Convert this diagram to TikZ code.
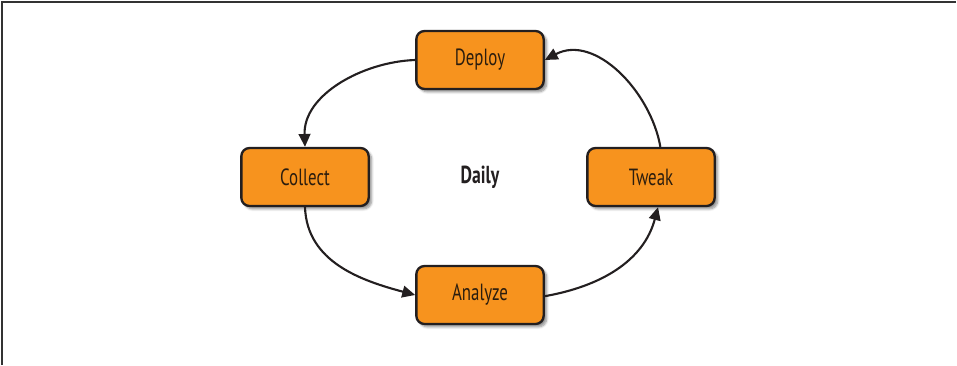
\documentclass[tikz,border=0pt]{standalone}
\usepackage{fontspec}
\setmainfont{PT Sans}[FakeStretch=0.72]
\usetikzlibrary{arrows.meta,shadows.blur}
\definecolor{boxfill}{HTML}{F7931E}
\definecolor{ink}{HTML}{231F20}
\definecolor{textink}{HTML}{2B1D0E}
\tikzset{
  stagebox/.style={draw=ink, line width=2pt, fill=boxfill, rounded corners=7pt,
    minimum width=3.82cm, minimum height=1.74cm, inner sep=0pt,
    text=textink, font=\fontsize{20}{22}\selectfont,
    blur shadow={shadow xshift=2.5pt, shadow yshift=-2.5pt, shadow blur steps=6, shadow opacity=45}},
  flow/.style={draw=ink, line width=1.8pt, -{Triangle[length=11pt,width=10pt]}},
}
\begin{document}
\begin{tikzpicture}[x=0.03cm, y=-0.03cm]
  \useasboundingbox (0,0) rectangle (957,365);
  % frame lines along the top and left edges
  \draw[line width=1.6pt, color=black!80] (2,365) -- (2,2) -- (956,2);

  \node[stagebox] (deploy)  at (480,60)  {Deploy};
  \node[stagebox] (collect) at (305,177) {Collect};
  \node[stagebox] (tweak)   at (651,177) {Tweak};
  \node[stagebox] (analyze) at (480,295) {Analyze};
  \node[font=\bfseries\fontsize{21}{23}\selectfont, text=ink] (daily) at (480,177) {Daily};

  % the daily cycle
  \draw[flow] (deploy.west) to[out=182, in=92, looseness=0.95] (collect.north);
  \draw[flow] (collect.south) to[out=-88, in=165] (analyze.west);
  \draw[flow] ([yshift=-1pt]analyze.east) to[out=10, in=-105] ([xshift=6pt]tweak.south);
  \draw[flow] ([xshift=8pt]tweak.north) to[out=100, in=28] (deploy.east);
\end{tikzpicture}
\end{document}
